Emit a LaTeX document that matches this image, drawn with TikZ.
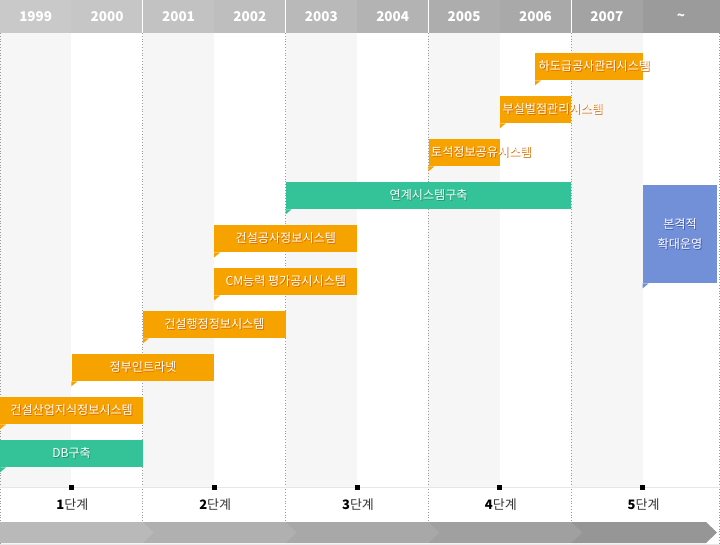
\documentclass[tikz,border=0pt]{standalone}
\usepackage{fontspec}
\setmainfont{Noto Sans CJK KR}
\definecolor{orng}{HTML}{F6A300}
\definecolor{orsh}{HTML}{D86A00}
\definecolor{grn}{HTML}{34C398}
\definecolor{grsh}{HTML}{1E946C}
\definecolor{blu}{HTML}{7190D8}
\definecolor{blsh}{HTML}{3D58B0}
\definecolor{colbg}{HTML}{F6F6F6}
\definecolor{dotc}{HTML}{9A9A9A}
\definecolor{lblc}{HTML}{333333}
\newcommand\shtxt[2]{\makebox[0pt][l]{\hspace{0.9pt}\raisebox{-0.9pt}{\textcolor{#1}{#2}}}\textcolor{white}{#2}}
\newcommand\bartail[2]{\fill[#2] (#1.south west) -- ++(6,0) -- ++(-6,5) -- cycle;}
\tikzset{
  barbox/.style={anchor=north west, inner sep=0pt, minimum height=27pt, font=\fontsize{12.1}{20}\selectfont},
  ovtext/.style={anchor=west, inner sep=0pt, font=\fontsize{12.1}{14}\selectfont},
  yeartext/.style={inner sep=0pt, text=white, font=\fontsize{13.5}{15}\selectfont\bfseries},
  stagetext/.style={inner sep=0pt, text=lblc, font=\fontsize{13}{15}\selectfont},
  sqmark/.style={fill=black, inner sep=0pt, minimum size=5pt},
  sepline/.style={dotc, dotted, line width=0.8pt}
}
\begin{document}
\begin{tikzpicture}[x=1pt,y=-1pt]
\useasboundingbox (0,0) rectangle (720,545);
% body background
\fill[white] (0,0) rectangle (720,545);
\foreach \i in {0,2,4,6,8} {
  \fill[colbg] (71.4*\i,33) rectangle (71.4*\i+71.4,487);
}
% header
\foreach \i/\yr/\c in {0/1999/201,1/2000/198,2/2001/194,3/2002/190,4/2003/185,5/2004/179,6/2005/173,7/2006/169,8/2007/163} {
  \fill[fill={rgb,255:red,\c;green,\c;blue,\c}] (71.4*\i,0) rectangle (71.4*\i+71.4,33);
  \node[yeartext] (y\yr) at (71.4*\i+35.7,17) {\yr};
}
\fill[fill={rgb,255:red,155;green,155;blue,155}] (642.6,0) rectangle (720,33);
\node[yeartext] (ytilde) at (681,17) {\textasciitilde};
\foreach \x in {142.8,285.6,428.4,571.2} {
  \draw[white, line width=1pt] (\x,0) -- (\x,33);
}
% dotted separators
\foreach \x in {142.8,285.6,428.4,571.2} {
  \draw[sepline] (\x,33) -- (\x,522);
}
\draw[sepline] (0.5,33) -- (0.5,545);
\draw[sepline] (719.5,33) -- (719.5,545);
% baseline
\draw[color={rgb,255:red,230;green,230;blue,230}, line width=1pt] (0,487) -- (720,487);
% stage markers and labels
\foreach \i/\n in {1/1,3/2,5/3,7/4,9/5} {
  \node[sqmark] (m\n) at (71.4*\i,487) {};
  \node[stagetext] (s\n) at (71.4*\i+1,505) {\textbf{\textcolor{black}{\n}}단계};
}
% bottom arrow strip
\foreach \i/\c in {5/150,4/160,3/168,2/176,1/185} {
  \pgfmathsetmacro{\xa}{142.8*(\i-1)}
  \pgfmathsetmacro{\xb}{ifthenelse(\i==5,706,142.8*\i)}
  \fill[fill={rgb,255:red,\c;green,\c;blue,\c}] (\xa,522) -- (\xb,522) -- (\xb+11,532.5) -- (\xb,543) -- (\xa,543) -- cycle;
}
\draw[color={rgb,255:red,232;green,232;blue,232}, line width=0.8pt] (0,544.5) -- (720,544.5);
% bars
\node[barbox, fill=grn, minimum width=142.8pt] (db) at (0,440) {\shtxt{grsh}{DB구축}};
\bartail{db}{grn}
\node[barbox, fill=orng, minimum width=142.8pt] (kis) at (0,397) {\shtxt{orsh}{건설산업지식정보시스템}};
\bartail{kis}{orng}
\node[barbox, fill=orng, minimum width=142.8pt] (intra) at (71.4,354) {\shtxt{orsh}{정부인트라넷}};
\bartail{intra}{orng}
\node[barbox, fill=orng, minimum width=142.8pt] (admin) at (142.8,311) {\shtxt{orsh}{건설행정정보시스템}};
\bartail{admin}{orng}
\node[barbox, fill=orng, minimum width=142.8pt] (cm) at (214.2,268) {\shtxt{orsh}{CM능력 평가공시시스템}};
\bartail{cm}{orng}
\node[barbox, fill=orng, minimum width=142.8pt] (cons) at (214.2,225) {\shtxt{orsh}{건설공사정보시스템}};
\bartail{cons}{orng}
\node[barbox, fill=grn, minimum width=285.6pt] (link) at (285.6,182) {\shtxt{grsh}{연계시스템구축}};
\bartail{link}{grn}
\node[barbox, fill=orng, minimum width=71.4pt] (soil) at (428.4,139) {};
\bartail{soil}{orng}
\node[ovtext] (soilt) at (431,152.5) {\shtxt{orsh}{토석정보공유시스템}};
\node[barbox, fill=orng, minimum width=71.4pt] (pen) at (499.8,96) {};
\bartail{pen}{orng}
\node[ovtext] (pent) at (502.5,109.5) {\shtxt{orsh}{부실벌점관리시스템}};
\node[barbox, fill=orng, minimum width=108pt] (sub) at (535,53) {};
\bartail{sub}{orng}
\node[ovtext] (subt) at (538.5,66.5) {\shtxt{orsh}{하도급공사관리시스템}};
\node[barbox, fill=blu, minimum width=74.4pt, minimum height=98pt, align=center] (full) at (642.6,185) {\shtxt{blsh}{본격적}\\\shtxt{blsh}{확대운영}};
\bartail{full}{blu}
\end{tikzpicture}
\end{document}
